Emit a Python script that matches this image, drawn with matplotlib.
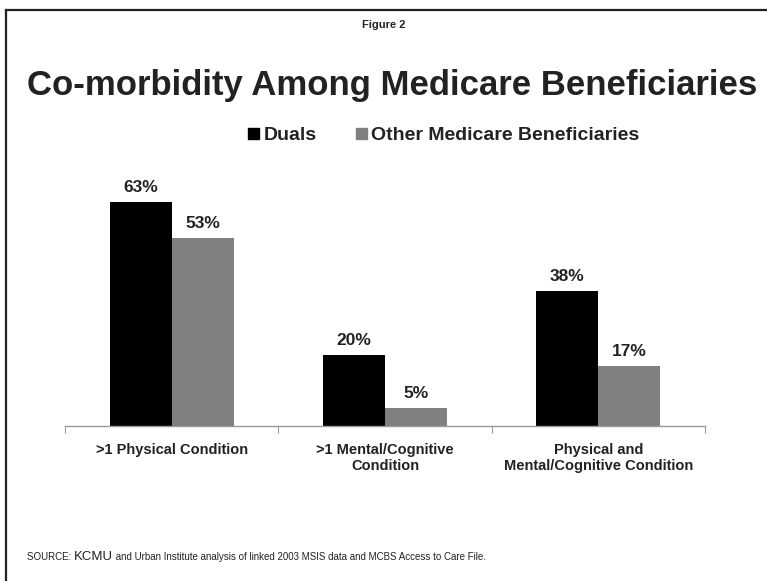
import matplotlib
matplotlib.use("Agg")
import matplotlib.pyplot as plt
import numpy as np
from matplotlib.lines import Line2D
from matplotlib.patches import Patch

plt.rcParams['font.family'] = ['Liberation Sans', 'DejaVu Sans']

categories = [">1 Physical Condition", ">1 Mental/Cognitive\nCondition",
              "Physical and\nMental/Cognitive Condition"]
series_names = ["Duals", "Other Medicare Beneficiaries"]
duals = [63, 20, 38]
others = [53, 5, 17]
colors = ["#000000", "#808080"]

W, H = 767, 581
fig = plt.figure(figsize=(W / 100, H / 100), dpi=100)

# frame lines (top and left)
fig.add_artist(Line2D([6 / W, 1], [1 - 10 / H, 1 - 10 / H], color="#222222", lw=1.6,
                      transform=fig.transFigure))
fig.add_artist(Line2D([6 / W, 6 / W], [0, 1 - 10 / H], color="#222222", lw=1.6,
                      transform=fig.transFigure))

ax = fig.add_axes([65 / W, (H - 426) / H, 640 / W, 246.4 / H])
x = np.arange(len(categories))
bw = 0.29
b1 = ax.bar(x - bw / 2, duals, bw, color=colors[0], label=series_names[0])
b2 = ax.bar(x + bw / 2, others, bw, color=colors[1], label=series_names[1])
for bars, vals in ((b1, duals), (b2, others)):
    for r, v in zip(bars, vals):
        ax.annotate(f"{v}%", (r.get_x() + r.get_width() / 2, v), xytext=(0, 5),
                    textcoords="offset points", ha="center", va="bottom",
                    fontsize=12.5, fontweight="bold", color="#222222")

ax.set_xlim(-0.5, 2.5)
ax.set_ylim(0, 69.4)
for s in ("top", "right", "left"):
    ax.spines[s].set_visible(False)
ax.spines["bottom"].set_color("#999999")
ax.spines["bottom"].set_linewidth(1.0)
ax.set_yticks([])
ax.set_xticks([-0.5, 0.5, 1.5, 2.5])
ax.set_xticklabels([])
ax.tick_params(axis="x", length=5, color="#999999", direction="out")
for i, c in enumerate(categories):
    ax.text(i, -4.8, c, ha="center", va="top", fontsize=10.5, fontweight="bold",
            color="#222222", linespacing=1.15)

fig.text(0.5, 1 - 25 / H, "Figure 2", ha="center", va="center", fontsize=8,
         fontweight="bold", color="#222222")
fig.text(392 / W, 1 - 86 / H, "Co-morbidity Among Medicare Beneficiaries", ha="center",
         va="center", fontsize=25, fontweight="bold", color="#222222")

handles = [Patch(color=colors[0]), Patch(color=colors[1])]
fig.legend(handles, series_names, loc="center", bbox_to_anchor=(444 / W, 1 - 136 / H),
           ncol=2, frameon=False, prop={"weight": "bold", "size": 14},
           handlelength=0.55, handleheight=0.55, handletextpad=0.25, columnspacing=2.0,
           labelcolor="#222222")

# source line
fig.canvas.draw()
r = fig.canvas.get_renderer()
xpos = 27 / W
ypos = 1 - 560 / H
parts = [("SOURCE: ", 7), ("KCMU", 9.5),
         (" and Urban Institute analysis of linked 2003 MSIS data and MCBS Access to Care File.", 7)]
for txt, fs in parts:
    t = fig.text(xpos, ypos, txt, fontsize=fs, ha="left", va="baseline", color="#222222")
    bb = t.get_window_extent(renderer=r)
    xpos += bb.width / W

fig.savefig("out.png", dpi=100)
